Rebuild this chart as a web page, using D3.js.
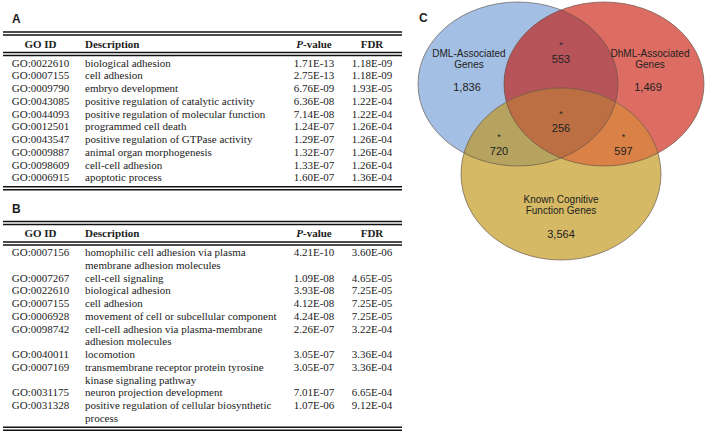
<!DOCTYPE html>
<html><head><meta charset="utf-8">
<script src="https://cdn.jsdelivr.net/npm/d3@7"></script>
<style>html,body{margin:0;padding:0;background:#fff;}svg{display:block;}</style>
</head><body>
<svg id="fig" width="708" height="432"></svg>
<script>
// ---------- Data ----------
const tableHeaders = ["GO ID", "Description", "P-value", "FDR"];

const tableA_ids = ["GO:0022610","GO:0007155","GO:0009790","GO:0043085","GO:0044093","GO:0012501","GO:0043547","GO:0009887","GO:0098609","GO:0006915"];
const tableA_desc = [["biological adhesion"],["cell adhesion"],["embryo development"],["positive regulation of catalytic activity"],["positive regulation of molecular function"],["programmed cell death"],["positive regulation of GTPase activity"],["animal organ morphogenesis"],["cell-cell adhesion"],["apoptotic process"]];
const tableA_p = ["1.71E-13","2.75E-13","6.76E-09","6.36E-08","7.14E-08","1.24E-07","1.29E-07","1.32E-07","1.33E-07","1.60E-07"];
const tableA_fdr = ["1.18E-09","1.18E-09","1.93E-05","1.22E-04","1.22E-04","1.26E-04","1.26E-04","1.26E-04","1.26E-04","1.36E-04"];

const tableB_ids = ["GO:0007156","GO:0007267","GO:0022610","GO:0007155","GO:0006928","GO:0098742","GO:0040011","GO:0007169","GO:0031175","GO:0031328"];
const tableB_desc = [["homophilic cell adhesion via plasma","membrane adhesion molecules"],["cell-cell signaling"],["biological adhesion"],["cell adhesion"],["movement of cell or subcellular component"],["cell-cell adhesion via plasma-membrane","adhesion molecules"],["locomotion"],["transmembrane receptor protein tyrosine","kinase signaling pathway"],["neuron projection development"],["positive regulation of cellular biosynthetic","process"]];
const tableB_p = ["4.21E-10","1.09E-08","3.93E-08","4.12E-08","4.24E-08","2.26E-07","3.05E-07","3.05E-07","7.01E-07","1.07E-06"];
const tableB_fdr = ["3.60E-06","4.65E-05","7.25E-05","7.25E-05","7.25E-05","3.22E-04","3.36E-04","3.36E-04","6.65E-04","9.12E-04"];

const vennSets = ["DML-Associated\nGenes", "DhML-Associated\nGenes", "Known Cognitive\nFunction Genes"];
const vennOnly = ["1,836", "1,469", "3,564"];
const vennPairs = ["553", "720", "597"];   // DML∩DhML, DML∩Known, DhML∩Known
const vennAll = "256";
const vennSignificant = [true, true, true, true]; // asterisks on pairs + triple

// ---------- Drawing ----------
const svg = d3.select("#fig");
const serif = "'Liberation Serif','Times New Roman',serif";
const sans = "'Liberation Sans',Arial,Helvetica,sans-serif";
const ink = "#1c1c1c";

const xL = 3, xR = 402;
const col = {id: 40.5, desc: 85, p: 314, fdr: 372};
const lineH = 12.75;

function drawTable(label, top, ids, descs, ps, fdrs) {
  const g = svg.append("g");
  g.append("text").attr("x", 12).attr("y", top - 13).attr("dominant-baseline", "central")
    .attr("font-family", sans).attr("font-weight", "bold").attr("font-size", 12).attr("fill", ink).text(label);
  const rule = y => g.append("line").attr("x1", xL).attr("x2", xR).attr("y1", y).attr("y2", y)
    .attr("stroke", "#111").attr("stroke-width", 1.5);
  rule(top); rule(top + 3);
  const hy = top + 11.5;
  const hdr = g.append("g").attr("font-family", serif).attr("font-weight", "bold").attr("font-size", 11).attr("fill", ink);
  hdr.append("text").attr("x", col.id).attr("y", hy).attr("text-anchor", "middle").attr("dominant-baseline", "central").text(tableHeaders[0]);
  hdr.append("text").attr("x", col.desc).attr("y", hy).attr("dominant-baseline", "central").text(tableHeaders[1]);
  const pv = hdr.append("text").attr("x", col.p).attr("y", hy).attr("text-anchor", "middle").attr("dominant-baseline", "central");
  pv.append("tspan").attr("font-style", "italic").text(tableHeaders[2].slice(0, 1));
  pv.append("tspan").text(tableHeaders[2].slice(1));
  hdr.append("text").attr("x", col.fdr).attr("y", hy).attr("text-anchor", "middle").attr("dominant-baseline", "central").text(tableHeaders[3]);
  rule(top + 20.5); rule(top + 23.5);

  const starts = [];
  let n = 0;
  descs.forEach(d => { starts.push(n); n += d.length; });
  const y = d3.scaleLinear().domain([0, 1]).range([top + 30.5, top + 30.5 + lineH]);
  const body = g.append("g").attr("font-family", serif).attr("font-size", 11).attr("fill", ink);
  ids.forEach((id, i) => {
    const yy = y(starts[i]);
    body.append("text").attr("x", col.id).attr("y", yy).attr("text-anchor", "middle").attr("dominant-baseline", "central").text(id);
    descs[i].forEach((t, k) => body.append("text").attr("x", col.desc).attr("y", y(starts[i] + k)).attr("dominant-baseline", "central").text(t));
    body.append("text").attr("x", col.p).attr("y", yy).attr("text-anchor", "middle").attr("dominant-baseline", "central").text(ps[i]);
    body.append("text").attr("x", col.fdr).attr("y", yy).attr("text-anchor", "middle").attr("dominant-baseline", "central").text(fdrs[i]);
  });
  const bot = y(n - 1) + 9.5;
  rule(bot); rule(bot + 3);
}

drawTable("A", 32, tableA_ids, tableA_desc, tableA_p, tableA_fdr);
drawTable("B", 221.5, tableB_ids, tableB_desc, tableB_p, tableB_fdr);

// ---------- Venn ----------
const E = [
  {cx: 518, cy: 84, rx: 100, ry: 82},
  {cx: 604, cy: 84, rx: 100, ry: 82},
  {cx: 561, cy: 174, rx: 100, ry: 86}
];
const onlyColors = ["#a3bfe3", "#dd6c63", "#d5b964"];
const defs = svg.append("defs");
E.forEach((e, i) => {
  defs.append("clipPath").attr("id", "c" + i).append("ellipse")
    .attr("cx", e.cx).attr("cy", e.cy).attr("rx", e.rx).attr("ry", e.ry);
});
const vg = svg.append("g");
E.forEach((e, i) => vg.append("ellipse").attr("cx", e.cx).attr("cy", e.cy).attr("rx", e.rx).attr("ry", e.ry).attr("fill", onlyColors[i]));
const overlap = (clips, e, fill) => {
  let g = vg;
  clips.forEach(c => { g = g.append("g").attr("clip-path", `url(#c${c})`); });
  g.append("ellipse").attr("cx", e.cx).attr("cy", e.cy).attr("rx", e.rx).attr("ry", e.ry).attr("fill", fill);
};
overlap([0], E[1], "#b65459");
overlap([0], E[2], "#b6a35f");
overlap([1], E[2], "#d98146");
overlap([0, 1], E[2], "#bc6f42");
E.forEach(e => vg.append("ellipse").attr("cx", e.cx).attr("cy", e.cy).attr("rx", e.rx).attr("ry", e.ry)
  .attr("fill", "none").attr("stroke", "#5e5048").attr("stroke-width", 0.8).attr("stroke-opacity", 0.8));

svg.append("text").attr("x", 419).attr("y", 18).attr("dominant-baseline", "central")
  .attr("font-family", sans).attr("font-weight", "bold").attr("font-size", 12).attr("fill", ink).text("C");

const vt = svg.append("g").attr("font-family", sans).attr("font-size", 10).attr("fill", "#222").attr("text-anchor", "middle");
const label = (x, y, s) => s.split("\n").forEach((t, k) =>
  vt.append("text").attr("x", x).attr("y", y + k * 11.5).attr("dominant-baseline", "central").text(t));
label(469, 53, vennSets[0]);
label(650, 53, vennSets[1]);
label(561, 199, vennSets[2]);
const num = (x, y, s, star) => {
  vt.append("text").attr("x", x).attr("y", y).attr("dominant-baseline", "central").attr("font-size", 11).text(s);
  if (star) vt.append("text").attr("x", x).attr("y", y - 14).attr("dominant-baseline", "central").attr("font-size", 9).text("*");
};
num(467, 87, vennOnly[0], false);
num(648, 87, vennOnly[1], false);
num(561, 234, vennOnly[2], false);
num(561, 58.5, vennPairs[0], vennSignificant[0]);
num(499, 150.5, vennPairs[1], vennSignificant[1]);
num(623.5, 150.5, vennPairs[2], vennSignificant[2]);
num(561, 128, vennAll, vennSignificant[3]);
</script>
</body></html>
